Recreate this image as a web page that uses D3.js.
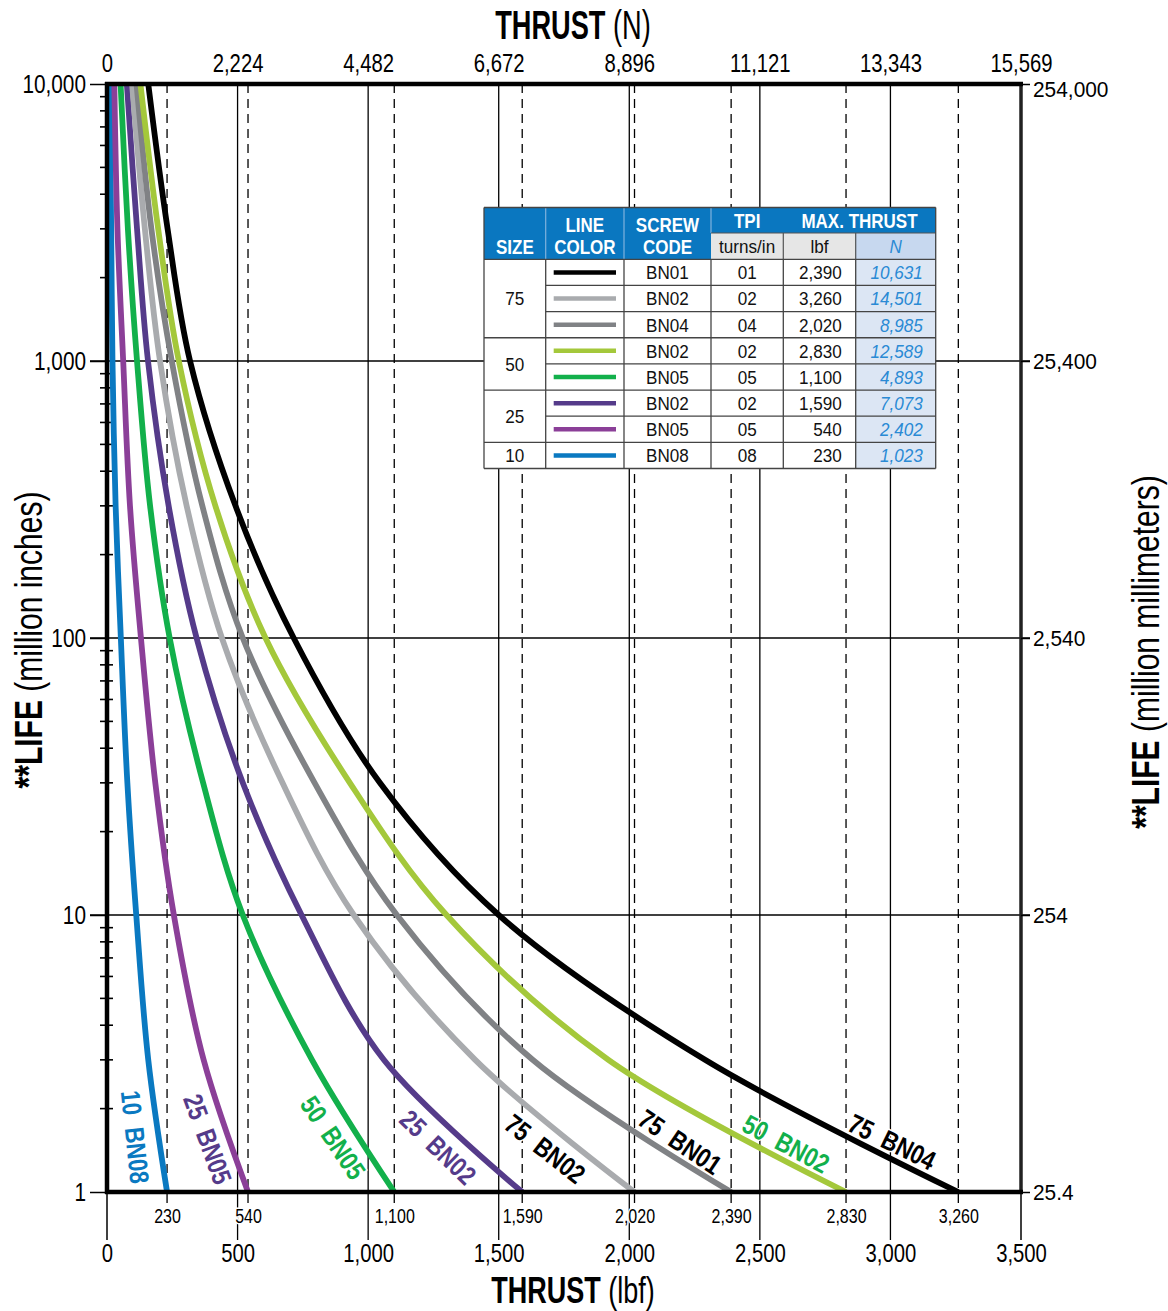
<!DOCTYPE html>
<html><head><meta charset="utf-8">
<script src="https://cdn.jsdelivr.net/npm/d3@7"></script>
<style>
body{margin:0;background:#fff}
svg{display:block}
text{font-family:"Liberation Sans",Arial,"Helvetica",sans-serif;}
</style></head><body>
<svg id="c" width="1168" height="1311"></svg>
<script>
// ---------- DATA ----------
const lifeLevels=[10000,3000,1000,300,100,30,10,3,1];           // million inches
const thrust10BN08=[10,16,21,33,53,78,112,158,230];               // lbf
const thrust25BN05=[28,40,62,88,130,185,256,370,540];
const thrust50BN05=[52,80,115,165,240,368,520,785,1100];
const thrust25BN02=[76,115,157,236,343,520,745,1060,1590];
const thrust75BN02=[96,145,203,305,440,672,945,1410,2020];
const thrust75BN01=[113,170,248,365,520,795,1110,1630,2390];
const thrust50BN02=[128,196,275,415,607,930,1300,1920,2830];
const thrust75BN04=[158,232,318,492,715,1045,1500,2290,3260];
const curveNames=["10 BN08","25 BN05","50 BN05","25 BN02","75 BN02","75 BN01","50 BN02","75 BN04"];
const curveThrusts=[thrust10BN08,thrust25BN05,thrust50BN05,thrust25BN02,thrust75BN02,thrust75BN01,thrust50BN02,thrust75BN04];
// curve label anchors in data units (thrust lbf, life)
const labelThrust=[107,385,865,1267,1677,2194,2600,3006];
const labelLife=[1.58,1.55,1.57,1.45,1.43,1.515,1.49,1.515];

const xTicks=[0,500,1000,1500,2000,2500,3000,3500];
const topTickLabels=["0","2,224","4,482","6,672","8,896","11,121","13,343","15,569"];
const yTicks=[1,10,100,1000,10000];
const rightTickLabels=["25.4","254","2,540","25,400","254,000"];
const maxThrustMarks=[230,540,1100,1590,2020,2390,2830,3260];

// table
const tblSize=["75","50","25","10"];
const tblSizeSpan=[3,2,2,1];
const tblCode=["BN01","BN02","BN04","BN02","BN05","BN02","BN05","BN08"];
const tblTPI=["01","02","04","02","05","02","05","08"];
const tblLbf=[2390,3260,2020,2830,1100,1590,540,230];
const tblN=[10631,14501,8985,12589,4893,7073,2402,1023];

// ---------- STYLE ----------
const curveColors=["#0a79c1","#8b3f98","#12b04b","#553b8a","#a9abae","#808285","#a4c83b","#000000"];
const labelColors=["#0a79c1","#553b8a","#12b04b","#553b8a","#000","#000","#12b04b","#000"];
const labelAngles=[84,70,56,44,38,34,28,26];
const tableLineColors=["#000000","#a9abae","#808285","#a4c83b","#12b04b","#553b8a","#8b3f98","#0a79c1"];

function condense(sel,s){
  sel.each(function(){
    const t=d3.select(this);
    const xa=+(t.attr("x")||0);
    const tr=t.attr("transform")||"";
    t.attr("x",xa/s).attr("transform",(tr?tr+" ":"")+`scale(${s},1)`);
  });
}

const svg=d3.select("#c");
const L=107,R=1021,T=84,B=1192;
const x=d3.scaleLinear().domain([0,3500]).range([L,R]);
const y=d3.scaleLog().domain([1,10000]).range([B,T]);
const fmt=d3.format(",");

// horizontal grid
svg.append("g").selectAll("line").data([10,100,1000]).join("line")
  .attr("x1",90).attr("x2",1030).attr("y1",d=>y(d)).attr("y2",d=>y(d))
  .attr("stroke","#000").attr("stroke-width",1.3);
// vertical grid
svg.append("g").selectAll("line").data(xTicks.slice(1,-1)).join("line")
  .attr("x1",d=>x(d)).attr("x2",d=>x(d)).attr("y1",T).attr("y2",1240)
  .attr("stroke","#000").attr("stroke-width",1.3);
// dashed max thrust lines
svg.append("g").selectAll("line").data(maxThrustMarks).join("line")
  .attr("x1",d=>x(d)).attr("x2",d=>x(d)).attr("y1",T).attr("y2",1205)
  .attr("stroke","#000").attr("stroke-width",1.3).attr("stroke-dasharray","9,6");

// minor ticks
const minor=[];
[1,10,100,1000].forEach(dec=>{for(let k=2;k<=9;k++)minor.push(dec*k);});
svg.append("g").selectAll("line").data(minor).join("line")
  .attr("x1",100).attr("x2",113).attr("y1",d=>y(d)).attr("y2",d=>y(d))
  .attr("stroke","#000").attr("stroke-width",1.6);

// curves
svg.append("clipPath").attr("id","clip").append("rect").attr("x",L).attr("y",T+2).attr("width",R-L).attr("height",B-T);
const line=d3.line().x(d=>x(d[0])).y(d=>y(d[1])).curve(d3.curveCatmullRom.alpha(0.5));
svg.append("g").attr("clip-path","url(#clip)").selectAll("path").data(curveThrusts).join("path")
  .attr("d",t=>line(t.map((v,i)=>[v,lifeLevels[i]])))
  .attr("fill","none").attr("stroke",(d,i)=>curveColors[i]).attr("stroke-width",5.8);

// frame
svg.append("line").attr("x1",L).attr("x2",L).attr("y1",T-2).attr("y2",B+2).attr("stroke","#000").attr("stroke-width",4.5);
svg.append("line").attr("x1",L).attr("x2",L).attr("y1",B).attr("y2",1240).attr("stroke","#000").attr("stroke-width",1.5);
svg.append("line").attr("x1",R).attr("x2",R).attr("y1",T-2).attr("y2",B+2).attr("stroke","#222").attr("stroke-width",3.5);
svg.append("line").attr("x1",R).attr("x2",R).attr("y1",B).attr("y2",1240).attr("stroke","#000").attr("stroke-width",1.5);
svg.append("line").attr("x1",L-2).attr("x2",R+2).attr("y1",T).attr("y2",T).attr("stroke","#000").attr("stroke-width",4.5);
svg.append("line").attr("x1",L-2).attr("x2",R+2).attr("y1",B).attr("y2",B).attr("stroke","#000").attr("stroke-width",4.5);

// axes
function styleAxis(g,size,s){g.select(".domain").remove();g.selectAll(".tick line").attr("stroke","#000").attr("stroke-width",1.5);
  const tx=g.selectAll("text").attr("font-size",size).attr("fill","#000");condense(tx,s);}
svg.append("g").attr("transform",`translate(0,${B})`)
  .call(d3.axisBottom(x).tickValues(xTicks).tickSize(0).tickPadding(52).tickFormat(fmt))
  .call(g=>styleAxis(g,26,0.78));
svg.append("g").attr("transform",`translate(0,${B})`)
  .call(d3.axisBottom(x).tickValues(maxThrustMarks).tickSize(0).tickPadding(17).tickFormat(fmt))
  .call(g=>{styleAxis(g,20,0.8);g.selectAll("text").attr("stroke","#fff").attr("stroke-width",3).attr("paint-order","stroke");});
svg.append("g").attr("transform",`translate(0,${T})`)
  .call(d3.axisTop(x).tickValues(xTicks).tickSize(0).tickPadding(12).tickFormat((d,i)=>topTickLabels[i]))
  .call(g=>styleAxis(g,26,0.78));
svg.append("g").attr("transform",`translate(${L},0)`)
  .call(d3.axisLeft(y).tickValues(yTicks).tickSize(17).tickPadding(4).tickFormat(fmt))
  .call(g=>styleAxis(g,26,0.8));
svg.append("g").attr("transform",`translate(${R},0)`)
  .call(d3.axisRight(y).tickValues(yTicks).tickSize(9).tickPadding(3).tickFormat((d,i)=>rightTickLabels[i]))
  .call(g=>{styleAxis(g,22,0.95);g.selectAll(".tick").filter(d=>d===10000).select("text").attr("dy","0.55em");});

// titles
function title(tx,ty,rot,bold,rest,size,s){
  const t=svg.append("text").attr("transform",`translate(${tx},${ty}) rotate(${rot}) scale(${s},1)`).attr("text-anchor","middle").attr("font-size",size).attr("fill","#000");
  t.append("tspan").attr("font-weight","bold").text(bold);
  t.append("tspan").text(rest);
}
title(573,39,0,"THRUST"," (N)",40,0.68);
title(573,1303,0,"THRUST"," (lbf)",37,0.73);
title(42,640,-90,"**LIFE"," (million inches)",38,0.79);
title(1159,652,-90,"**LIFE"," (million millimeters)",38,0.79);

// curve labels
const lab=svg.append("g").selectAll("text").data(curveNames).join("text")
  .attr("transform",(d,i)=>`translate(${x(labelThrust[i])},${y(labelLife[i])}) rotate(${labelAngles[i]})`)
  .attr("text-anchor","middle").attr("dominant-baseline","central")
  .attr("font-size",27).attr("font-weight","bold").style("white-space","pre")
  .attr("fill",(d,i)=>labelColors[i]).attr("stroke","#fff").attr("stroke-width",3).attr("paint-order","stroke")
  .text(d=>d.replace(" ","  "));
condense(lab,0.82);

// ---------- TABLE ----------
const cx=[484,545.7,624,711,783.3,855.7,935.7];
const hTop=207.5,hMid=233,dTop=259.3,rh=(468.5-259.3)/8;
const tg=svg.append("g");
const blue="#0a77c0";
tg.append("rect").attr("x",cx[0]).attr("y",hTop).attr("width",cx[6]-cx[0]).attr("height",dTop-hTop).attr("fill",blue);
tg.append("rect").attr("x",cx[3]).attr("y",hMid).attr("width",cx[5]-cx[3]).attr("height",dTop-hMid).attr("fill","#e6e6e6");
tg.append("rect").attr("x",cx[5]).attr("y",hMid).attr("width",cx[6]-cx[5]).attr("height",dTop-hMid).attr("fill","#c7d8ef");
tg.append("rect").attr("x",cx[0]).attr("y",dTop).attr("width",cx[5]-cx[0]).attr("height",rh*8).attr("fill","#fff");
tg.append("rect").attr("x",cx[5]).attr("y",dTop).attr("width",cx[6]-cx[5]).attr("height",rh*8).attr("fill","#dce6f4");
[1,2,3].forEach(i=>tg.append("line").attr("x1",cx[i]).attr("x2",cx[i]).attr("y1",hTop).attr("y2",hMid).attr("stroke","#7fb2dd").attr("stroke-width",1.2));
[1,2].forEach(i=>tg.append("line").attr("x1",cx[i]).attr("x2",cx[i]).attr("y1",hMid).attr("y2",dTop).attr("stroke","#7fb2dd").attr("stroke-width",1.2));
tg.append("line").attr("x1",cx[4]).attr("x2",cx[4]).attr("y1",hMid).attr("y2",dTop).attr("stroke","#555").attr("stroke-width",1.2);
tg.append("line").attr("x1",cx[5]).attr("x2",cx[5]).attr("y1",hMid).attr("y2",dTop).attr("stroke","#555").attr("stroke-width",1.2);
tg.append("line").attr("x1",cx[3]).attr("x2",cx[6]).attr("y1",hMid).attr("y2",hMid).attr("stroke","#555").attr("stroke-width",1.2);
const ht=(tx,ty,s,opt)=>{const t=tg.append("text").attr("x",tx).attr("y",ty).attr("text-anchor","middle").attr("font-size",opt&&opt.fs||20).attr("font-weight",opt&&opt.fw||"bold").attr("fill",opt&&opt.c||"#fff").attr("font-style",opt&&opt.it||null).text(s);condense(t,opt&&opt.s||0.85);};
ht((cx[0]+cx[1])/2,254,"SIZE");
ht((cx[1]+cx[2])/2,232,"LINE");ht((cx[1]+cx[2])/2,254,"COLOR");
ht((cx[2]+cx[3])/2,232,"SCREW");ht((cx[2]+cx[3])/2,254,"CODE");
ht((cx[3]+cx[4])/2,228,"TPI");
ht((cx[4]+cx[6])/2,228,"MAX. THRUST");
ht((cx[3]+cx[4])/2,253,"turns/in",{fw:"normal",c:"#111",fs:19,s:0.9});
ht((cx[4]+cx[5])/2,253,"lbf",{fw:"normal",c:"#111",fs:19,s:0.9});
ht((cx[5]+cx[6])/2,253,"N",{fw:"normal",c:"#2a8ad4",fs:19,it:"italic",s:0.9});
const rows=tg.append("g");
tblCode.forEach((c,i)=>{
  const cy=dTop+rh*(i+0.5);
  const g=rows.append("g").attr("font-size",19);
  g.append("line").attr("x1",cx[1]+8).attr("x2",cx[2]-8).attr("y1",cy).attr("y2",cy).attr("stroke",tableLineColors[i]).attr("stroke-width",4.5);
  g.append("text").attr("x",(cx[2]+cx[3])/2).attr("y",cy).attr("dy","0.36em").attr("text-anchor","middle").attr("fill","#111").text(c);
  g.append("text").attr("x",(cx[3]+cx[4])/2).attr("y",cy).attr("dy","0.36em").attr("text-anchor","middle").attr("fill","#111").text(tblTPI[i]);
  g.append("text").attr("x",cx[5]-14).attr("y",cy).attr("dy","0.36em").attr("text-anchor","end").attr("fill","#111").text(fmt(tblLbf[i]));
  g.append("text").attr("x",cx[6]-13).attr("y",cy).attr("dy","0.36em").attr("text-anchor","end").attr("fill","#2a8ad4").attr("font-style","italic").text(fmt(tblN[i]));
  condense(g.selectAll("text"),0.9);
});
for(let i=1;i<8;i++){
  const yy=dTop+rh*i;
  const startsGroup=[3,5,7].includes(i);
  tg.append("line").attr("x1",startsGroup?cx[0]:cx[1]).attr("x2",cx[6]).attr("y1",yy).attr("y2",yy).attr("stroke","#444").attr("stroke-width",1.3);
}
let acc=0;
tblSize.forEach((s,i)=>{
  const cy=dTop+rh*(acc+tblSizeSpan[i]/2);acc+=tblSizeSpan[i];
  const t=tg.append("text").attr("x",(cx[0]+cx[1])/2).attr("y",cy).attr("dy","0.36em").attr("text-anchor","middle").attr("font-size",19).attr("fill","#111").text(s);
  condense(t,0.9);
});
cx.forEach((c,i)=>tg.append("line").attr("x1",c).attr("x2",c).attr("y1",(i==0||i==6)?hTop:dTop).attr("y2",dTop+rh*8).attr("stroke","#444").attr("stroke-width",1.3));
tg.append("line").attr("x1",cx[0]).attr("x2",cx[6]).attr("y1",dTop).attr("y2",dTop).attr("stroke","#444").attr("stroke-width",1.3);
tg.append("line").attr("x1",cx[0]).attr("x2",cx[6]).attr("y1",dTop+rh*8).attr("y2",dTop+rh*8).attr("stroke","#444").attr("stroke-width",1.3);
tg.append("line").attr("x1",cx[0]).attr("x2",cx[6]).attr("y1",hTop).attr("y2",hTop).attr("stroke","#444").attr("stroke-width",1.3);
</script></body></html>
